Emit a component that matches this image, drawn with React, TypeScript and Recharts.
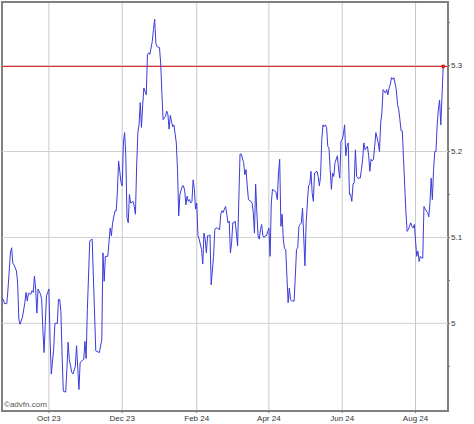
import { CartesianGrid, Line, LineChart, ReferenceArea, ReferenceDot, ReferenceLine, XAxis, YAxis } from 'recharts';

// calendar days since 2023-08-23
const dayOffset = [
  0, 1, 2, 4, 5, 7, 8, 9, 10, 12, 13, 14, 15, 17, 19, 20, 21, 22, 24, 25, 26, 27, 28, 29, 30, 32, 33, 34, 35, 37, 38, 39,
  40, 41, 43, 44, 46, 47, 48, 49, 50, 51, 53, 54, 55, 56, 58, 59, 61, 62, 64, 65, 66, 68, 69, 70, 71, 73, 74, 75, 78, 81,
  83, 84, 85, 86, 88, 90, 91, 92, 94, 95, 96, 97, 99, 100, 101, 102, 103, 104, 105, 106, 107, 109, 110, 111, 112, 113,
  114, 115, 116, 117, 118, 120, 121, 122, 123, 125, 126, 127, 128, 129, 131, 132, 133, 134, 136, 137, 138, 139, 140, 141,
  142, 143, 145, 146, 147, 148, 150, 151, 152, 153, 154, 155, 156, 157, 158, 159, 160, 161, 162, 163, 164, 166, 167, 168,
  169, 170, 171, 172, 173, 174, 176, 177, 178, 179, 181, 182, 183, 184, 185, 186, 187, 188, 189, 190, 191, 192, 193, 194,
  196, 198, 199, 201, 202, 203, 204, 205, 207, 208, 209, 210, 211, 212, 213, 214, 215, 216, 217, 218, 219, 220, 222, 223,
  224, 225, 227, 228, 229, 230, 231, 232, 233, 234, 235, 236, 237, 238, 239, 240, 241, 243, 244, 245, 246, 247, 248, 249,
  250, 252, 253, 254, 255, 256, 257, 258, 259, 260, 262, 263, 264, 265, 266, 267, 268, 269, 270, 271, 272, 273, 274, 275,
  276, 277, 279, 280, 281, 282, 283, 284, 285, 286, 287, 288, 289, 290, 291, 292, 293, 294, 295, 296, 298, 299, 300, 301,
  302, 304, 305, 306, 307, 308, 309, 310, 311, 312, 313, 314, 315, 316, 317, 319, 320, 321, 322, 323, 324, 325, 326, 328,
  329, 330, 331, 332, 333, 334, 335, 336, 337, 338, 339, 340, 341, 342, 343, 345, 346, 347, 348, 349, 350, 351, 352, 354,
  355, 356, 357, 358, 359, 360, 361, 362, 363, 364, 365, 366, 367,
];

const price = [
  5.029, 5.028, 5.023, 5.023, 5.04, 5.082, 5.088, 5.07, 5.068, 5.061, 5.047, 5.005, 4.999, 5.007, 5.024, 5.036, 5.026,
  5.035, 5.034, 5.038, 5.036, 5.055, 5.04, 5.012, 5.04, 5.034, 5.028, 4.993, 4.966, 5.032, 5.036, 5.04, 4.981, 4.941, 4.97,
  5.0, 5.0, 5.028, 5.028, 5.014, 4.962, 4.921, 4.92, 4.947, 4.978, 4.958, 4.943, 4.941, 4.95, 4.974, 4.923, 4.954, 4.956,
  4.958, 4.979, 4.959, 5.016, 5.096, 5.097, 5.098, 4.968, 4.966, 4.981, 5.082, 5.049, 5.078, 5.078, 5.111, 5.102, 5.117,
  5.131, 5.131, 5.154, 5.189, 5.164, 5.16, 5.21, 5.222, 5.195, 5.123, 5.117, 5.15, 5.14, 5.142, 5.136, 5.127, 5.183, 5.222,
  5.231, 5.257, 5.228, 5.253, 5.274, 5.266, 5.313, 5.315, 5.313, 5.328, 5.342, 5.354, 5.326, 5.322, 5.321, 5.303, 5.268,
  5.237, 5.241, 5.247, 5.243, 5.226, 5.242, 5.235, 5.229, 5.231, 5.21, 5.179, 5.125, 5.15, 5.16, 5.16, 5.154, 5.138, 5.148,
  5.142, 5.144, 5.14, 5.142, 5.167, 5.156, 5.133, 5.14, 5.102, 5.098, 5.086, 5.069, 5.105, 5.098, 5.082, 5.102, 5.102,
  5.103, 5.045, 5.078, 5.109, 5.111, 5.111, 5.109, 5.127, 5.131, 5.129, 5.133, 5.136, 5.127, 5.117, 5.119, 5.082, 5.094,
  5.117, 5.117, 5.119, 5.09, 5.197, 5.197, 5.187, 5.173, 5.179, 5.16, 5.144, 5.142, 5.14, 5.129, 5.105, 5.162, 5.129,
  5.102, 5.098, 5.109, 5.115, 5.102, 5.1, 5.102, 5.102, 5.111, 5.078, 5.14, 5.156, 5.154, 5.152, 5.144, 5.175, 5.191,
  5.113, 5.127, 5.098, 5.087, 5.086, 5.055, 5.024, 5.041, 5.028, 5.026, 5.026, 5.055, 5.086, 5.088, 5.113, 5.115, 5.117,
  5.134, 5.067, 5.117, 5.14, 5.16, 5.162, 5.177, 5.152, 5.142, 5.175, 5.177, 5.171, 5.16, 5.171, 5.214, 5.231, 5.229,
  5.231, 5.228, 5.206, 5.204, 5.179, 5.156, 5.175, 5.171, 5.187, 5.195, 5.179, 5.169, 5.212, 5.214, 5.22, 5.231, 5.195,
  5.206, 5.21, 5.15, 5.15, 5.142, 5.162, 5.164, 5.202, 5.171, 5.169, 5.169, 5.179, 5.191, 5.21, 5.202, 5.206, 5.195, 5.177,
  5.191, 5.189, 5.191, 5.206, 5.222, 5.216, 5.21, 5.2, 5.233, 5.245, 5.272, 5.268, 5.272, 5.266, 5.274, 5.278, 5.286,
  5.284, 5.286, 5.272, 5.255, 5.249, 5.237, 5.224, 5.224, 5.191, 5.16, 5.129, 5.107, 5.109, 5.113, 5.117, 5.113, 5.111,
  5.115, 5.078, 5.084, 5.072, 5.078, 5.076, 5.076, 5.136, 5.133, 5.129, 5.124, 5.14, 5.169, 5.144, 5.179, 5.2, 5.2, 5.231,
  5.249, 5.26, 5.231, 5.264, 5.299,
];

// month starts, as day offsets, and their labels
const monthTicks = [39, 100, 162, 222, 283, 344];
const monthLabels = ['Oct 23', 'Dec 23', 'Feb 24', 'Apr 24', 'Jun 24', 'Aug 24'];

const priceTicks = [4.95, 5, 5.05, 5.1, 5.15, 5.2, 5.25, 5.3, 5.35];
const gridPrices = [5, 5.1, 5.2, 5.3];

const X_DOMAIN: [number, number] = [0, 371];
const Y_DOMAIN: [number, number] = [4.898, 5.374];

const data = dayOffset.map((d, i) => ({ d, p: price[i] }));
const last = data[data.length - 1];

const tickStyle = { fontSize: 8, fill: '#333', fontFamily: '"Liberation Sans", Arial, sans-serif' };

function priceLabel(v: number) {
  const cents = Math.round(v * 100);
  if (cents % 10 !== 0) return '';
  return cents % 100 === 0 ? String(cents / 100) : (cents / 100).toFixed(1);
}

export default function App() {
  return (
    <div style={{ position: 'absolute', left: 0, top: 0, width: 474, height: 424, background: '#fff' }}>
      <LineChart width={474} height={424} data={data} margin={{ top: 2, right: 0, bottom: 0, left: 2 }}>
        <CartesianGrid horizontal={false} stroke="#c8c8c8" strokeWidth={1} />
        {gridPrices.map((g) => (
          <ReferenceLine key={g} y={g} stroke="#d0d0d0" strokeWidth={1} />
        ))}
        <XAxis
          dataKey="d"
          type="number"
          domain={X_DOMAIN}
          ticks={monthTicks}
          tickFormatter={(v: number) => monthLabels[monthTicks.indexOf(v)] ?? ''}
          height={13}
          axisLine={false}
          tickLine={{ stroke: '#777' }}
          tickSize={2}
          tickMargin={2}
          tick={tickStyle}
          interval={0}
          allowDataOverflow
        />
        <YAxis
          orientation="right"
          type="number"
          domain={Y_DOMAIN}
          ticks={priceTicks}
          tickFormatter={priceLabel}
          width={26}
          axisLine={false}
          tickLine={{ stroke: '#777' }}
          tickSize={2}
          tickMargin={1}
          tick={tickStyle}
          interval={0}
          allowDataOverflow
        />
        <ReferenceLine y={last.p} stroke="#e02020" strokeWidth={1} />
        <Line
          dataKey="p"
          type="linear"
          stroke="#3b3bdc"
          strokeWidth={1}
          dot={false}
          activeDot={false}
          isAnimationActive={false}
        />
        <ReferenceDot x={last.d} y={last.p} r={2} fill="#e02020" stroke="none" />
        <ReferenceArea
          x1={X_DOMAIN[0]}
          x2={X_DOMAIN[1]}
          y1={Y_DOMAIN[0]}
          y2={Y_DOMAIN[1]}
          fill="none"
          stroke="#808080"
          strokeWidth={2}
          ifOverflow="visible"
        />
      </LineChart>
      <span
        style={{
          position: 'absolute',
          left: 4,
          top: 400,
          fontSize: 8,
          color: '#555',
          fontFamily: '"Liberation Sans", Arial, sans-serif',
        }}
      >
        ©advfn.com
      </span>
    </div>
  );
}
